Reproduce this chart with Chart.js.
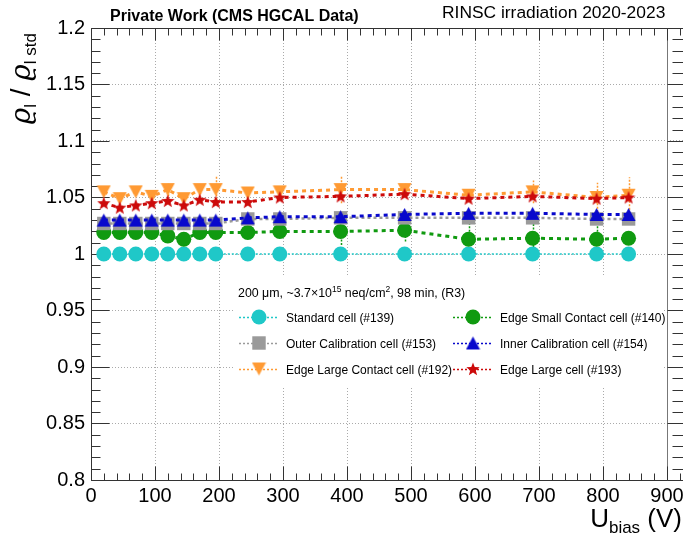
<!DOCTYPE html>
<html>
<head>
<meta charset="utf-8">
<script src="https://cdn.jsdelivr.net/npm/chart.js@4"></script>
<style>
  html, body { margin: 0; padding: 0; background: #fff; }
  canvas { display: block; }
</style>
</head>
<body>
<canvas id="myGraph" width="683" height="534"></canvas>
<script>
// bias voltage points (V)
const biasV = [20, 45, 70, 95, 120, 145, 170, 195, 245, 295, 390, 490, 590, 690, 790, 840];

// ratio to standard cell, one list per cell
const std139 = [1, 1, 1, 1, 1, 1, 1, 1, 1, 1, 1, 1, 1, 1, 1, 1];
const esc140 = [1.019, 1.019, 1.019, 1.019, 1.016, 1.013, 1.019, 1.019, 1.019, 1.020, 1.020, 1.021, 1.013, 1.014, 1.013, 1.014];
const oc153  = [1.027, 1.027, 1.027, 1.027, 1.027, 1.027, 1.027, 1.027, 1.031, 1.031, 1.032, 1.032, 1.032, 1.032, 1.031, 1.031];
const ic154  = [1.030, 1.030, 1.030, 1.030, 1.030, 1.030, 1.030, 1.030, 1.032, 1.033, 1.033, 1.035, 1.036, 1.036, 1.035, 1.035];
const elc192 = [1.055, 1.049, 1.055, 1.051, 1.057, 1.049, 1.057, 1.057, 1.054, 1.055, 1.057, 1.057, 1.052, 1.055, 1.050, 1.052];
const el193  = [1.045, 1.041, 1.043, 1.045, 1.047, 1.043, 1.048, 1.046, 1.046, 1.050, 1.051, 1.053, 1.049, 1.051, 1.049, 1.050];

// error bars that stick out of the markers
const esc140Err = [0, 0, 0, 0, 0, 0, 0, 0, 0, 0, 0.012, 0.010, 0.015, 0.014, 0.012, 0.004];
const elc192Err = [0.003, 0.003, 0.003, 0.003, 0.006, 0.006, 0.004, 0.012, 0.004, 0.005, 0.012, 0.006, 0.006, 0.010, 0.013, 0.016];

const xTicks = [0, 100, 200, 300, 400, 500, 600, 700, 800, 900];
const yTicks = [0.8, 0.85, 0.9, 0.95, 1, 1.05, 1.1, 1.15, 1.2];

const SANS = '"Liberation Sans", Arial, Helvetica, sans-serif';
Chart.defaults.font.family = SANS;
Chart.defaults.color = '#000';

// small canvases for markers chart.js doesn't have
function markerImg(kind, color) {
  const c = document.createElement('canvas');
  const s = kind === 'star' ? 14 : 15;
  c.width = s; c.height = s;
  const g = c.getContext('2d');
  g.fillStyle = color;
  g.beginPath();
  if (kind === 'up') {
    g.moveTo(s / 2, 1); g.lineTo(s - 0.5, s - 1); g.lineTo(0.5, s - 1);
  } else if (kind === 'down') {
    g.moveTo(0.5, 1); g.lineTo(s - 0.5, 1); g.lineTo(s / 2, s - 1);
  } else {
    const R = s / 2, r = R * 0.42;
    for (let i = 0; i < 10; i++) {
      const a = -Math.PI / 2 + i * Math.PI / 5;
      const rr = i % 2 ? r : R;
      g.lineTo(R + rr * Math.cos(a), R + 0.5 + rr * Math.sin(a));
    }
  }
  g.closePath();
  g.fill();
  return c;
}

const COL = {
  cyan: '#1fc8c8', green: '#109a10', grey: '#9a9a9a',
  blue: '#0808cc', orange: '#ff9a33', red: '#cc0a0a'
};

const series = [
  { label: 'Standard cell (#139)', y: std139, color: COL.cyan, style: 'circle', r: 7.5, w: 1.5, dash: [2, 2], order: 6 },
  { label: 'Edge Small Contact cell (#140)', y: esc140, err: esc140Err, color: COL.green, style: 'circle', r: 7.5, w: 3, dash: [4, 4], order: 5 },
  { label: 'Outer Calibration cell (#153)', y: oc153, color: COL.grey, style: 'rect', r: 9.5, w: 2.5, dash: [3, 3], order: 4 },
  { label: 'Inner Calibration cell (#154)', y: ic154, color: COL.blue, style: markerImg('up', COL.blue), w: 3, dash: [4, 4], order: 3 },
  { label: 'Edge Large Contact cell (#192)', y: elc192, err: elc192Err, color: COL.orange, style: markerImg('down', COL.orange), w: 3, dash: [4, 4], order: 2 },
  { label: 'Edge Large cell (#193)', y: el193, color: COL.red, style: markerImg('star', COL.red), w: 3, dash: [4, 4], order: 1 }
];

const datasets = series.map(s => ({
  label: s.label,
  data: biasV.map((x, i) => ({ x: x, y: s.y[i] })),
  errors: s.err,
  borderColor: s.color,
  backgroundColor: s.color,
  pointBackgroundColor: s.color,
  pointBorderWidth: 0,
  pointStyle: s.style,
  pointRadius: s.r || 7,
  borderWidth: s.w,
  borderDash: s.dash,
  showLine: true,
  fill: false,
  tension: 0,
  order: s.order
}));

// draw mixed-size text (sub/superscripts) left to right
function richWidth(ctx, segs) {
  let w = 0;
  segs.forEach(s => { ctx.font = s.font; w += ctx.measureText(s.t).width; });
  return w;
}
function drawRich(ctx, segs, x, y) {
  segs.forEach(s => {
    ctx.font = s.font;
    ctx.fillText(s.t, x, y + (s.dy || 0));
    x += ctx.measureText(s.t).width;
  });
}

const errorBars = {
  id: 'errorBars',
  beforeDatasetsDraw(chart) {
    const { ctx, scales: { x, y } } = chart;
    chart.data.datasets.forEach(ds => {
      if (!ds.errors) return;
      ctx.save();
      ctx.strokeStyle = ds.borderColor;
      ctx.lineWidth = 1.5;
      ctx.setLineDash([2, 1.5]);
      ds.data.forEach((p, i) => {
        const e = ds.errors[i];
        if (!e) return;
        const px = Math.round(x.getPixelForValue(p.x)) + 0.5;
        ctx.beginPath();
        ctx.moveTo(px, y.getPixelForValue(p.y - e));
        ctx.lineTo(px, y.getPixelForValue(p.y + e));
        ctx.stroke();
      });
      ctx.restore();
    });
  }
};

// ROOT-style frame with inward ticks on all four sides
const frame = {
  id: 'frame',
  beforeDatasetsDraw(chart) {
    const { ctx, chartArea: a, scales: { x, y } } = chart;
    const L = Math.round(a.left) + 0.5, T = Math.round(a.top) + 0.5;
    const B = Math.round(a.bottom) + 0.5, R = Math.round(a.right) - 0.5;
    const X900 = Math.round(x.getPixelForValue(900)) + 0.5;
    ctx.save();
    ctx.strokeStyle = '#333';
    ctx.lineWidth = 1;
    ctx.beginPath();
    ctx.moveTo(L, T); ctx.lineTo(R, T);
    ctx.moveTo(L, B); ctx.lineTo(R, B);
    ctx.moveTo(L, T); ctx.lineTo(L, B);
    ctx.stroke();
    ctx.strokeStyle = '#777';
    ctx.beginPath();
    ctx.moveTo(X900, T); ctx.lineTo(X900, B);
    ctx.stroke();
    ctx.strokeStyle = '#333';
    ctx.beginPath();
    for (let i = 0; i <= 40; i++) {
      const v = 0.8 + i * 0.01;
      const py = Math.round(y.getPixelForValue(v)) + 0.5;
      const major = i % 5 === 0;
      ctx.moveTo(L, py); ctx.lineTo(L + (major ? 18 : 9), py);
      ctx.moveTo(R + 1, py); ctx.lineTo(major ? X900 : R - 10, py);
    }
    for (let v = 0; v <= 920; v += 20) {
      const px = Math.round(x.getPixelForValue(v)) + 0.5;
      const major = v % 100 === 0;
      ctx.moveTo(px, B); ctx.lineTo(px, B - (major ? 14 : 7));
      ctx.moveTo(px, T); ctx.lineTo(px, T + (major ? 12 : 7));
    }
    ctx.stroke();
    ctx.restore();
  }
};

const texts = {
  id: 'texts',
  afterDraw(chart) {
    const { ctx } = chart;
    ctx.save();
    ctx.fillStyle = '#000';
    ctx.textBaseline = 'alphabetic';

    ctx.font = 'bold 16px ' + SANS;
    ctx.fillText('Private Work (CMS HGCAL Data)', 110, 21);
    ctx.font = '17.4px ' + SANS;
    ctx.fillText('RINSC irradiation 2020-2023', 442, 18);

    // x title, right aligned
    const xt = [
      { t: 'U', font: '26px ' + SANS },
      { t: 'bias', font: '17px ' + SANS, dy: 6 },
      { t: ' (V)', font: '26px ' + SANS }
    ];
    drawRich(ctx, xt, 682 - richWidth(ctx, xt), 527);

    // y title, rotated, right aligned at the top
    const yt = [
      { t: 'ϱ', font: 'italic 28px "DejaVu Serif"' },
      { t: 'l', font: '17px ' + SANS, dy: 6 },
      { t: ' / ', font: '28px ' + SANS },
      { t: 'ϱ', font: 'italic 28px "DejaVu Serif"' },
      { t: 'l std', font: '17px ' + SANS, dy: 6 }
    ];
    ctx.save();
    ctx.translate(30, 33);
    ctx.rotate(-Math.PI / 2);
    drawRich(ctx, yt, -richWidth(ctx, yt), 0);
    ctx.restore();

    // legend box
    ctx.fillStyle = '#fff';
    ctx.fillRect(233, 277, 430, 109);
    ctx.fillStyle = '#000';
    drawRich(ctx, [
      { t: '200 μm, ~3.7×10', font: '12.4px ' + SANS },
      { t: '15', font: '8.5px ' + SANS, dy: -5 },
      { t: ' neq/cm', font: '12.4px ' + SANS },
      { t: '2', font: '8.5px ' + SANS, dy: -5 },
      { t: ', 98 min, (R3)', font: '12.4px ' + SANS }
    ], 238, 297);

    const cols = [239, 453], rows = [317, 343, 369];
    series.forEach((s, i) => {
      const lx = cols[i % 2], ly = rows[Math.floor(i / 2)];
      const mx = lx + 20;
      ctx.strokeStyle = s.color;
      ctx.lineWidth = 1.5;
      ctx.setLineDash([2, 2]);
      ctx.beginPath();
      ctx.moveTo(lx, ly + 0.5); ctx.lineTo(lx + 40, ly + 0.5);
      ctx.stroke();
      ctx.setLineDash([]);
      ctx.fillStyle = s.color;
      if (s.style === 'circle') {
        ctx.beginPath(); ctx.arc(mx, ly, s.r, 0, Math.PI * 2); ctx.fill();
      } else if (s.style === 'rect') {
        const h = s.r * Math.SQRT1_2;
        ctx.fillRect(mx - h, ly - h, 2 * h, 2 * h);
      } else {
        ctx.drawImage(s.style, mx - s.style.width / 2, ly - s.style.height / 2);
      }
      ctx.fillStyle = '#000';
      ctx.font = '12px ' + SANS;
      ctx.fillText(s.label, lx + 47, ly + 5);
    });
    ctx.restore();
  }
};

new Chart(document.getElementById('myGraph').getContext('2d'), {
  type: 'scatter',
  data: { datasets: datasets },
  options: {
    responsive: false,
    animation: false,
    devicePixelRatio: 1,
    layout: { autoPadding: false, padding: { top: 28, left: 0, right: 0, bottom: 0 } },
    plugins: { legend: { display: false }, tooltip: { enabled: false } },
    scales: {
      x: {
        type: 'linear', min: 0, max: 925,
        afterBuildTicks: s => { s.ticks = xTicks.map(v => ({ value: v })); },
        afterFit: s => { s.height = 54; s.paddingLeft = 0; s.paddingRight = 0; },
        ticks: { font: { size: 20 }, color: '#000', padding: 4, maxRotation: 0, autoSkip: false },
        grid: { color: '#aaa', lineWidth: 1, drawTicks: false },
        border: { display: false, dash: [1, 2] }
      },
      y: {
        type: 'linear', min: 0.8, max: 1.2,
        afterBuildTicks: s => { s.ticks = yTicks.map(v => ({ value: v })); },
        afterFit: s => { s.width = 91; s.paddingTop = 0; s.paddingBottom = 0; },
        ticks: {
          font: { size: 20 }, color: '#000', padding: 6,
          callback: v => String(parseFloat(v.toFixed(2)))
        },
        grid: { color: '#aaa', lineWidth: 1, drawTicks: false },
        border: { display: false, dash: [1, 2] }
      }
    }
  },
  plugins: [errorBars, frame, texts]
});
</script>
</body>
</html>
